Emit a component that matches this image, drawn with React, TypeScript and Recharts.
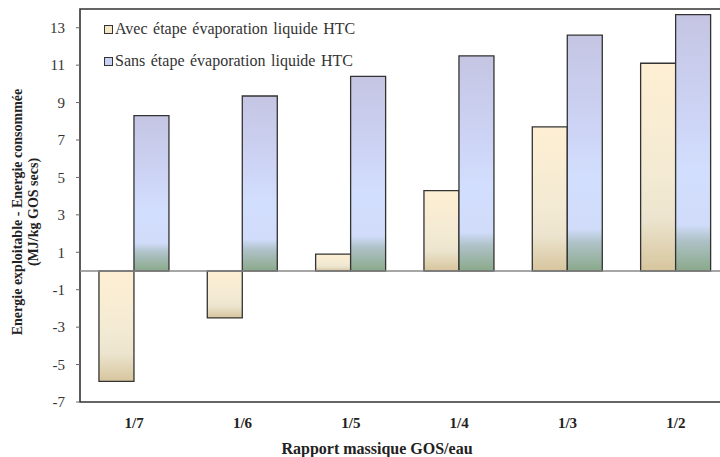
import React from 'react';
import { BarChart, Bar, XAxis, YAxis, ReferenceLine, ReferenceArea, Legend } from 'recharts';

const categories = ['1/7', '1/6', '1/5', '1/4', '1/3', '1/2'];
const avecValues = [-5.9, -2.5, 0.9, 4.3, 7.7, 11.1];
const sansValues = [8.3, 9.35, 10.4, 11.5, 12.6, 13.7];
const yTicks = [-7, -5, -3, -1, 1, 3, 5, 7, 9, 11, 13];
const yMinorTicks = [-6, -4, -2, 0, 2, 4, 6, 8, 10, 12, 14];
const seriesNames = ['Avec étape évaporation liquide HTC', 'Sans étape évaporation liquide HTC'];
const yTitle = ['Energie exploitable  - Energie consommée', '(MJ/kg GOS secs)'];
const xTitle = 'Rapport massique GOS/eau';

const data = categories.map((c, i) => ({ cat: c, avec: avecValues[i], sans: sansValues[i] }));

const FONT = 'Liberation Serif, Times New Roman, DejaVu Serif, serif';

const YTitle = () => (
  <g>
    <text x={17} y={212} transform="rotate(-90 17 212)" textAnchor="middle" dominantBaseline="central"
      style={{ fontFamily: FONT }} fontWeight="bold" fontSize={14} fill="#222">{yTitle[0]}</text>
    <text x={33} y={212} transform="rotate(-90 33 212)" textAnchor="middle" dominantBaseline="central"
      style={{ fontFamily: FONT }} fontWeight="bold" fontSize={14} fill="#222">{yTitle[1]}</text>
  </g>
);

const LegendContent = () => (
  <div style={{ fontFamily: FONT, fontSize: 16, color: '#333', lineHeight: '32px', wordSpacing: 1.5, whiteSpace: 'nowrap' }}>
    {seriesNames.map((n, i) => (
      <div key={n} style={{ display: 'flex', alignItems: 'center', height: 32 }}>
        <span style={{ display: 'inline-block', width: 7, height: 7, border: '1.5px solid #333',
          background: i === 0 ? '#F3E7C6' : '#C9D2F2', marginRight: 2 }} />
        <span>{n}</span>
      </div>
    ))}
  </div>
);

export default function App() {
  return (
    <div style={{ position: 'fixed', left: 0, top: 0, width: 720, height: 457, overflow: 'hidden', background: '#fff', fontFamily: FONT }}>
      <BarChart width={770} height={457} data={data} margin={{ top: 9, right: 40, left: 0, bottom: 5 }}
        barCategoryGap="17.5%" barGap={0} style={{ fontFamily: FONT }}>
        <defs>
          <linearGradient id="gAvec" x1="0" y1="0" x2="0" y2="1">
            <stop offset="0%" stopColor="#FEEFD3" />
            <stop offset="55%" stopColor="#F3EAD3" />
            <stop offset="75%" stopColor="#ECE4CE" />
            <stop offset="100%" stopColor="#D7C59D" />
          </linearGradient>
          <linearGradient id="gSans" x1="0" y1="0" x2="0" y2="1">
            <stop offset="0%" stopColor="#C5C5E3" />
            <stop offset="40%" stopColor="#CDD4F5" />
            <stop offset="60%" stopColor="#D2DEFD" />
            <stop offset="82%" stopColor="#D0DCFA" />
            <stop offset="88%" stopColor="#AFC2C8" />
            <stop offset="100%" stopColor="#8AA98A" />
          </linearGradient>
        </defs>
        <XAxis dataKey="cat" height={50} axisLine={false} tickLine={false} tickMargin={9}
          tick={{ fontFamily: FONT, fontSize: 15, fontWeight: 'bold', fill: '#222' }}
          label={{ value: xTitle, position: 'insideBottom', offset: -2, dx: -28, fontFamily: FONT, fontSize: 16, fontWeight: 'bold', fill: '#222' }} />
        <YAxis yAxisId="minor" width={0} domain={[-7, 14]} ticks={yMinorTicks} allowDataOverflow
          axisLine={false} tickSize={3} tickFormatter={() => ''} stroke="#666" />
        <YAxis width={80} domain={[-7, 14]} ticks={yTicks} allowDataOverflow interval={0}
          axisLine={false} tickSize={4} tickMargin={11} stroke="#666"
          tick={{ fontFamily: FONT, fontSize: 15, fill: '#333' }}
          label={{ content: () => <YTitle /> }} />
        <Legend layout="vertical" verticalAlign="middle" align="center" content={() => <LegendContent />}
          wrapperStyle={{ top: 13, left: 104, width: 340, height: 70 }} />
        <ReferenceLine y={0} stroke="#888" strokeWidth={1.5} />
        <Bar dataKey="avec" name={seriesNames[0]} fill="url(#gAvec)" stroke="#333" strokeWidth={1.3} isAnimationActive={false} />
        <Bar dataKey="sans" name={seriesNames[1]} fill="url(#gSans)" stroke="#333" strokeWidth={1.3} isAnimationActive={false} />
        <ReferenceArea y1={-7} y2={14} fill="none" stroke="#333" strokeWidth={1.6} ifOverflow="visible" />
      </BarChart>
    </div>
  );
}
